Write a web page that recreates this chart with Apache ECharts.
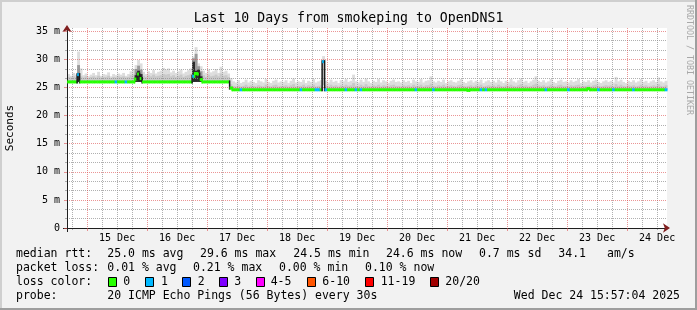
<!DOCTYPE html>
<html><head><meta charset="utf-8">
<script src="https://cdn.jsdelivr.net/npm/echarts@6/dist/echarts.min.js"></script>
<style>html,body{margin:0;padding:0;background:#f2f2f2}#c{width:697px;height:310px}</style>
</head><body><div id="c"></div>
<script>
// ---------------- DATA ----------------
// time axis: hours since Dec 14 00:00
const START_H = 15 + 57/60 + 4/3600;   // Dec 14 15:57:04
const END_H = START_H + 240;           // Dec 24 15:57:04
const FIRST_BIN_H = 16;                // first hourly bin starts Dec 14 16:00

const dayLabels = ['15 Dec','16 Dec','17 Dec','18 Dec','19 Dec','20 Dec','21 Dec','22 Dec','23 Dec','24 Dec'];
const dayNoonHours = [36, 60, 84, 108, 132, 156, 180, 204, 228, 252];
const midnightHours = [24, 48, 72, 96, 120, 144, 168, 192, 216, 240];
const sixHourHours = [18,30,36,42,54,60,66,78,84,90,102,108,114,126,132,138,150,156,162,174,180,186,198,204,210,222,228,234,246,252];
const yTickValues = [0, 5, 10, 15, 20, 25, 30, 35];

// median RTT (ms) per hourly bin (240 bins)
const median = [
 26.0,26.0,26.0,26.0,27.3,26.0,26.0,26.0,26.0,26.0,
 26.0,26.0,26.0,26.0,26.0,26.0,26.0,26.0,26.0,26.0,
 26.0,26.0,26.0,26.0,26.0,26.0,26.0,26.5,27.4,26.6,
 26.0,26.0,26.0,26.0,26.0,26.0,26.0,26.0,26.0,26.0,
 26.0,26.0,26.0,26.0,26.0,26.0,26.0,26.0,26.0,26.0,
 27.0,27.5,27.4,26.4,26.0,26.0,26.0,26.0,26.0,26.0,
 26.0,26.0,26.0,26.0,26.0,24.9,24.6,24.6,24.6,24.6,
 24.6,24.6,24.6,24.6,24.6,24.6,24.6,24.6,24.6,24.6,
 24.6,24.6,24.6,24.6,24.6,24.6,24.6,24.6,24.6,24.6,
 24.6,24.6,24.6,24.6,24.6,24.6,24.6,24.6,24.6,24.6,
 24.6,24.6,29.6,24.6,24.6,24.6,24.6,24.6,24.6,24.6,
 24.6,24.6,24.6,24.6,24.6,24.6,24.6,24.6,24.6,24.6,
 24.6,24.6,24.6,24.6,24.6,24.6,24.6,24.6,24.6,24.6,
 24.6,24.6,24.6,24.6,24.6,24.6,24.6,24.6,24.6,24.6,
 24.6,24.6,24.6,24.6,24.6,24.6,24.6,24.6,24.6,24.6,
 24.6,24.6,24.6,24.6,24.6,24.6,24.6,24.6,24.6,24.6,
 24.5,24.6,24.6,24.6,24.6,24.6,24.6,24.6,24.6,24.6,
 24.6,24.6,24.6,24.6,24.6,24.6,24.6,24.6,24.6,24.6,
 24.6,24.6,24.6,24.6,24.6,24.6,24.6,24.6,24.6,24.6,
 24.6,24.6,24.6,24.6,24.6,24.6,24.6,24.6,24.6,24.6,
 24.6,24.6,24.6,24.6,24.6,24.6,24.6,24.6,24.8,24.6,
 24.6,24.6,24.6,24.6,24.6,24.6,24.6,24.6,24.6,24.6,
 24.6,24.6,24.6,24.6,24.6,24.6,24.6,24.6,24.6,24.6,
 24.6,24.6,24.6,24.6,24.6,24.6,24.6,24.6,24.6,24.6
];
// highest ping per bin (outer smoke)
const smokeTop = [
 27.4,27.1,27.6,27.3,31.4,28.4,27.2,27.5,27.0,27.3,
 27.6,27.2,27.8,27.1,27.4,27.3,27.7,27.0,27.4,27.2,
 27.5,27.3,27.6,27.1,27.4,27.9,28.3,29.0,29.9,29.3,
 27.8,27.4,27.9,27.6,28.1,27.5,27.8,28.0,28.5,28.2,
 28.4,27.7,28.0,27.6,27.9,28.2,27.5,27.8,28.1,28.4,
 30.5,32.2,29.3,28.8,28.0,27.6,28.2,27.7,27.9,28.3,
 27.6,28.7,27.8,28.0,27.5,26.7,26.1,25.9,26.3,25.8,
 26.0,26.4,25.9,26.2,26.0,25.8,26.3,26.1,25.9,26.5,
 26.0,25.8,26.2,26.4,25.9,26.1,26.0,26.3,25.8,26.2,
 26.6,25.9,26.1,26.0,26.4,25.8,26.2,26.0,26.5,25.9,
 26.1,26.3,30.6,26.2,25.9,26.4,26.0,26.2,25.8,26.3,
 26.1,26.5,26.0,26.2,27.3,26.1,25.9,26.4,26.0,26.6,
 26.1,25.8,26.2,26.0,26.5,25.9,26.3,26.1,25.8,26.2,
 26.4,26.0,26.1,25.9,26.3,26.0,26.2,25.8,26.4,26.1,
 26.0,26.5,25.9,26.2,26.3,27.0,26.1,25.9,26.2,26.0,
 26.4,25.8,26.1,26.3,26.0,25.9,26.2,26.5,26.0,25.8,
 26.1,26.3,25.9,26.2,26.0,26.4,25.8,26.1,26.3,26.0,
 26.2,25.9,26.4,26.1,25.8,26.2,26.0,26.5,26.1,25.9,
 26.3,26.6,26.0,26.2,25.8,26.1,26.4,27.0,26.2,26.0,
 26.3,25.9,26.1,26.5,26.0,25.8,26.2,26.4,26.0,26.1,
 25.9,26.3,26.0,26.2,26.5,25.8,26.1,26.0,26.3,25.9,
 26.2,26.4,26.0,25.8,26.1,26.3,26.0,26.2,25.9,26.9,
 26.1,26.4,26.0,25.8,26.2,26.0,26.3,25.9,26.1,26.5,
 26.0,26.2,25.8,26.1,26.3,26.0,26.8,26.1,25.9,26.2
];
// upper edge of the dense (inner) smoke per bin
const midTop = [
 26.9,26.8,27.0,26.9,27.2,27.0,26.8,27.0,26.7,26.9,
 27.0,26.8,27.1,26.8,26.9,26.9,27.1,26.7,26.9,26.8,
 27.0,26.9,27.0,26.8,26.9,27.2,27.3,27.4,27.6,27.5,
 27.1,26.9,27.2,27.0,27.3,27.0,27.1,27.2,27.4,27.3,
 27.4,27.0,27.2,26.9,27.1,27.3,26.9,27.1,27.2,27.4,
 27.8,27.9,27.6,27.3,27.2,26.9,27.3,27.0,27.1,27.3,
 27.0,27.5,27.1,27.2,26.9,25.6,25.3,25.2,25.4,25.2,
 25.3,25.5,25.2,25.4,25.3,25.2,25.4,25.3,25.2,25.5,
 25.3,25.2,25.4,25.5,25.2,25.3,25.3,25.4,25.2,25.4,
 25.6,25.2,25.3,25.3,25.5,25.2,25.4,25.3,25.5,25.2,
 25.3,25.4,25.4,25.4,25.2,25.5,25.3,25.4,25.2,25.4,
 25.3,25.5,25.3,25.4,25.8,25.3,25.2,25.5,25.3,25.6,
 25.3,25.2,25.4,25.3,25.5,25.2,25.4,25.3,25.2,25.4,
 25.5,25.3,25.3,25.2,25.4,25.3,25.4,25.2,25.5,25.3,
 25.3,25.5,25.2,25.4,25.4,25.7,25.3,25.2,25.4,25.3,
 25.5,25.2,25.3,25.4,25.3,25.2,25.4,25.5,25.3,25.2,
 25.3,25.4,25.2,25.4,25.3,25.5,25.2,25.3,25.4,25.3,
 25.4,25.2,25.5,25.3,25.2,25.4,25.3,25.5,25.3,25.2,
 25.4,25.6,25.3,25.4,25.2,25.3,25.5,25.7,25.4,25.3,
 25.4,25.2,25.3,25.5,25.3,25.2,25.4,25.5,25.3,25.3,
 25.2,25.4,25.3,25.4,25.5,25.2,25.3,25.3,25.4,25.2,
 25.4,25.5,25.3,25.2,25.3,25.4,25.3,25.4,25.2,25.6,
 25.3,25.5,25.3,25.2,25.4,25.3,25.4,25.2,25.3,25.5,
 25.3,25.4,25.2,25.3,25.4,25.3,25.6,25.3,25.2,25.4
];
// bins where 1 of 20 pings was lost
const lossBins1 = [4,19,23,50,69,93,99,100,102,103,111,115,117,139,146,165,167,191,200,212,218,226,239];
// spread-out smoke during the spikes: [bin, low ms, high ms]
const spikeMid = [[4,26.0,29.0],[27,26.0,28.3],[28,26.0,28.9],[29,26.0,28.2],[50,26.0,30.2],[51,26.0,31.0],[52,26.0,28.8],[53,26.0,27.9]];
const spikeDark = [[4,26.0,27.6],[27,26.0,27.2],[28,26.0,28.0],[29,26.0,27.4],[50,26.0,29.6],[51,26.0,28.0],[52,26.0,28.2],[53,26.0,27.0]];

// legend texts
const rttStats = ['25.0 ms avg','29.6 ms max','24.5 ms min','24.6 ms now','0.7 ms sd','34.1','am/s'];
const lossStats = ['0.01 % avg','0.21 % max','0.00 % min','0.10 % now'];
const lossLabels = ['0','1','2','3','4-5','6-10','11-19','20/20'];
const probeText = '20 ICMP Echo Pings (56 Bytes) every 30s';
const stampText = 'Wed Dec 24 15:57:04 2025';
const titleText = 'Last 10 Days from smokeping to OpenDNS1';

// ---------------- STYLE ----------------
const FONT = 'DejaVu Sans Mono';
const LOSS_COLORS = ['#26ff00','#00b8ff','#0059ff','#7e00ff','#ff00ff','#ff5500','#ff0000','#a10000'];
const MGRID = 'rgba(222,79,79,0.6)';
const GRID = 'rgba(143,143,143,0.7)';
const minorY = [];
for (let k = 1; k < 22; k++) if (k % 3) minorY.push(k * 5 / 3);

const rttX = [107.3, 200, 293.3, 386, 479, 558.3, 607];
const lossX = [107.3, 193, 279, 365];
const boxX = [108.5, 145.5, 182.5, 219.5, 256.5, 307.5, 365.5, 430.5];
const boxLabelX = [123.3, 161, 197.7, 234.3, 270.7, 322.3, 380.7, 445.3];
const rowY = [254.5, 268.5, 282.5, 296.5];

// ---------------- BUILD ----------------
const lossOf = i => (lossBins1.indexOf(i) >= 0 ? 1 : 0);
const lightData = median.map((m, i) => [FIRST_BIN_H + i, FIRST_BIN_H + i + 1, m, smokeTop[i]]);
const midData = median.map((m, i) => [FIRST_BIN_H + i, FIRST_BIN_H + i + 1, m, midTop[i]]);
const spikeMidData = spikeMid.map(s => [FIRST_BIN_H + s[0], FIRST_BIN_H + s[0] + 1, s[1], s[2]]);
const spikeDarkData = spikeDark.map(s => [FIRST_BIN_H + s[0], FIRST_BIN_H + s[0] + 1, s[1], s[2]]);
const medianData = median.map((m, i) => [FIRST_BIN_H + i, FIRST_BIN_H + i + 1, m, lossOf(i), i < median.length - 1 ? median[i + 1] : m, i < median.length - 1 ? lossOf(i + 1) : 0]);

function rectSeries(data, color, z) {
  return {
    type: 'custom', data: data, z: z, silent: true,
    encode: {x: [0, 1], y: [2, 3]},
    renderItem: function (params, api) {
      const a = api.coord([api.value(0), api.value(3)]);
      const b = api.coord([api.value(1), api.value(2)]);
      return {type: 'rect', shape: {x: a[0], y: a[1], width: b[0] - a[0] + 0.4, height: b[1] - a[1]}, style: {fill: color}};
    }
  };
}

const medianSeries = {
  type: 'custom', data: medianData, z: 6, silent: true,
  encode: {x: [0, 1], y: [2]},
  renderItem: function (params, api) {
    const a = api.coord([api.value(0), api.value(2)]);
    const b = api.coord([api.value(1), api.value(2)]);
    const n = api.coord([api.value(1), api.value(4)]);
    const children = [{type: 'rect', shape: {x: a[0], y: a[1] - 1.5, width: b[0] - a[0] + 0.4, height: 3}, style: {fill: LOSS_COLORS[api.value(3)]}}];
    const diff = Math.abs(api.value(4) - api.value(2));
    if (diff > 0.05) {
      children.push({type: 'rect', shape: {x: b[0] - 0.75, y: Math.min(a[1], n[1]) - 1.5, width: 1.5, height: Math.abs(n[1] - a[1]) + 3},
        style: {fill: diff > 0.5 ? '#1a1a1a' : LOSS_COLORS[api.value(5)]}});
    }
    return {type: 'group', children: children};
  }
};

const txt = (x, y, s, extra) => Object.assign({type: 'text', x: x, y: y, silent: true,
  style: {text: s, fill: '#000', font: '11.5px "' + FONT + '"', verticalAlign: 'middle', align: 'left'}}, extra || {});

const graphics = [
  // 3D frame
  {type: 'rect', shape: {x: 0, y: 0, width: 697, height: 2}, style: {fill: '#cfcfcf'}, silent: true},
  {type: 'rect', shape: {x: 0, y: 0, width: 2, height: 310}, style: {fill: '#cfcfcf'}, silent: true},
  {type: 'rect', shape: {x: 0, y: 308, width: 697, height: 2}, style: {fill: '#9e9e9e'}, silent: true},
  {type: 'rect', shape: {x: 695, y: 0, width: 2, height: 310}, style: {fill: '#9e9e9e'}, silent: true},
  // axis cross stubs at the origin
  {type: 'line', shape: {x1: 63, y1: 228.5, x2: 67, y2: 228.5}, style: {stroke: '#1f1f1f', lineWidth: 1}, silent: true},
  {type: 'line', shape: {x1: 67.5, y1: 228, x2: 67.5, y2: 232}, style: {stroke: '#1f1f1f', lineWidth: 1}, silent: true},
  // title
  {type: 'text', x: 348.5, y: 19, silent: true, style: {text: titleText, fill: '#000', font: '13.2px "' + FONT + '"', align: 'center', verticalAlign: 'middle'}},
  // y axis name
  {type: 'text', x: 10, y: 128, rotation: Math.PI / 2, silent: true, style: {text: 'Seconds', fill: '#000', font: '11px "' + FONT + '"', align: 'center', verticalAlign: 'middle'}},
  // watermark
  {type: 'text', x: 689, y: 5, rotation: -Math.PI / 2, silent: true, style: {text: 'RRDTOOL / TOBI OETIKER', fill: '#a8a8a8', font: '8.3px "' + FONT + '"', align: 'left', verticalAlign: 'middle'}},
  // legend rows
  txt(16, rowY[0], 'median rtt:'),
  txt(16, rowY[1], 'packet loss:'),
  txt(16, rowY[2], 'loss color:'),
  txt(16, rowY[3], 'probe:'),
  txt(107.3, rowY[3], probeText),
  txt(680, rowY[3], stampText, {style: {text: stampText, fill: '#000', font: '11.5px "' + FONT + '"', verticalAlign: 'middle', align: 'right'}})
];
rttStats.forEach((s, i) => graphics.push(txt(rttX[i], rowY[0], s)));
lossStats.forEach((s, i) => graphics.push(txt(lossX[i], rowY[1], s)));
lossLabels.forEach((s, i) => {
  graphics.push({type: 'rect', silent: true, shape: {x: boxX[i], y: rowY[2] - 5, width: 8, height: 9}, style: {fill: LOSS_COLORS[i], stroke: '#000', lineWidth: 1}});
  graphics.push(txt(boxLabelX[i], rowY[2], s));
});

const axisFont = {fontFamily: FONT, fontSize: 10, color: '#000'};

const option = {
  animation: false,
  backgroundColor: '#f2f2f2',
  grid: {left: 67, top: 28, width: 600, height: 200, show: true, backgroundColor: '#ffffff', borderWidth: 0, outerBoundsMode: 'none', containLabel: false},
  xAxis: [
    {type: 'value', min: START_H, max: END_H, position: 'bottom', z: 4,
      axisLine: {show: true, onZero: false, lineStyle: {color: '#1f1f1f', width: 1}},
      axisTick: {show: true, customValues: midnightHours, length: 3, lineStyle: {color: MGRID}},
      axisLabel: Object.assign({show: true, customValues: dayNoonHours, margin: 5,
        formatter: v => dayLabels[dayNoonHours.indexOf(Math.round(v))]}, axisFont),
      splitLine: {show: true, lineStyle: {color: MGRID, type: [1, 1], width: 1}}},
    {type: 'value', min: START_H, max: END_H, position: 'bottom', z: 3,
      axisLine: {show: false, onZero: false},
      axisTick: {show: true, customValues: sixHourHours, length: 2, lineStyle: {color: GRID}},
      axisLabel: {show: false},
      splitLine: {show: true, lineStyle: {color: GRID, type: [1, 1], width: 1}}},
    {type: 'value', min: START_H, max: END_H, position: 'bottom', z: 5,
      axisLine: {show: true, onZero: false, symbol: ['none', 'arrow'], symbolSize: [7, 7], symbolOffset: [0, 3], lineStyle: {color: '#801f1f', width: 0}},
      axisTick: {show: false}, axisLabel: {show: false}, splitLine: {show: false}}
  ],
  yAxis: [
    {type: 'value', min: 0, max: 35.6, position: 'left', z: 4,
      axisLine: {show: true, onZero: false, lineStyle: {color: '#1f1f1f', width: 1}},
      axisTick: {show: true, customValues: yTickValues, length: 3, lineStyle: {color: MGRID}},
      axisLabel: Object.assign({show: true, customValues: yTickValues, margin: 7,
        formatter: v => (v === 0 ? '0' : Math.round(v) + ' m')}, axisFont),
      splitLine: {show: true, lineStyle: {color: MGRID, type: [1, 1], width: 1}}},
    {type: 'value', min: 0, max: 35.6, position: 'left', z: 3,
      axisLine: {show: false, onZero: false},
      axisTick: {show: true, customValues: minorY, length: 2, lineStyle: {color: GRID}},
      axisLabel: {show: false},
      splitLine: {show: true, lineStyle: {color: GRID, type: [1, 1], width: 1}}},
    {type: 'value', min: 0, max: 35.6, position: 'left', z: 5,
      axisLine: {show: true, onZero: false, symbol: ['none', 'arrow'], symbolSize: [7, 7], symbolOffset: [0, 3], lineStyle: {color: '#801f1f', width: 0}},
      axisTick: {show: false}, axisLabel: {show: false}, splitLine: {show: false}}
  ],
  series: [
    rectSeries(lightData, '#dddddd', 1),
    rectSeries(midData, '#c9c9c9', 1),
    rectSeries(spikeMidData, '#9a9a9a', 1),
    rectSeries(spikeDarkData, '#2a2a2a', 1),
    medianSeries
  ],
  graphic: graphics
};

const chart = echarts.init(document.getElementById('c'), null, {renderer: 'canvas', width: 697, height: 310});
chart.setOption(option);
</script>
</body></html>
